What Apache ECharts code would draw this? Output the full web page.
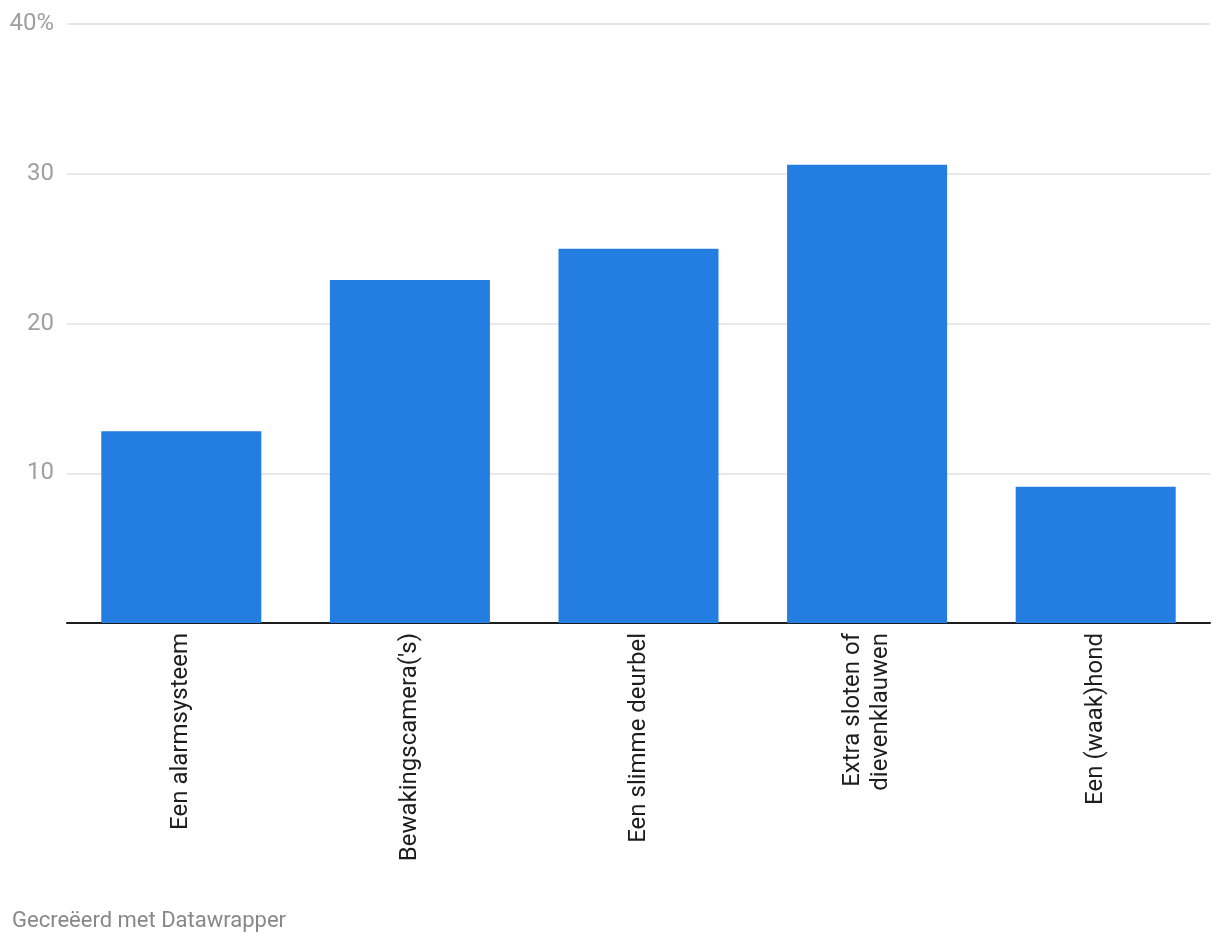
<!DOCTYPE html>
<html>
<head>
<meta charset="utf-8">
<script src="https://cdn.jsdelivr.net/npm/echarts@6/dist/echarts.min.js"></script>
<style>
html,body{margin:0;padding:0;background:#fff;}
#chart{width:1220px;height:946px;}
</style>
</head>
<body>
<div id="chart"></div>
<script>
var categories = ['Een alarmsysteem', "Bewakingscamera('s)", 'Een slimme deurbel', 'Extra sloten of\ndievenklauwen', 'Een (waak)hond'];
var values = [12.8, 22.9, 25.0, 30.6, 9.1];
var yTicks = [0, 10, 20, 30, 40];
var footer = 'Gecreëerd met Datawrapper';

var chart = echarts.init(document.getElementById('chart'));
chart.setOption({
  backgroundColor: '#ffffff',
  textStyle: {fontFamily: 'Roboto'},
  animation: false,
  grid: {left: 67, right: 10, top: 24, bottom: 323, containLabel: false},
  graphic: [{
    type: 'text', left: 12, top: 910,
    style: {text: footer, fill: '#888888', font: '22px Roboto'}
  }],
  xAxis: {
    type: 'category',
    data: categories,
    axisLine: {lineStyle: {color: '#1d1d1d', width: 2}},
    axisTick: {show: false},
    axisLabel: {rotate: 90, margin: 10, color: '#1d1d1d', fontSize: 24, fontFamily: 'Roboto', lineHeight: 28, interval: 0}
  },
  yAxis: {
    type: 'value',
    min: yTicks[0], max: yTicks[yTicks.length - 1], interval: 10,
    axisLine: {show: false},
    axisTick: {show: false},
    splitLine: {lineStyle: {color: '#e0e0e0', width: 1.5}},
    axisLabel: {
      margin: 13, color: '#a0a0a0', fontSize: 24, fontFamily: 'Roboto',
      formatter: function (v) { if (v === 0) return ''; return v === 40 ? v + '%' : String(v); }
    }
  },
  series: [{
    type: 'bar',
    data: values,
    barWidth: '70%',
    itemStyle: {color: '#247de0'}
  }]
});
</script>
</body>
</html>
